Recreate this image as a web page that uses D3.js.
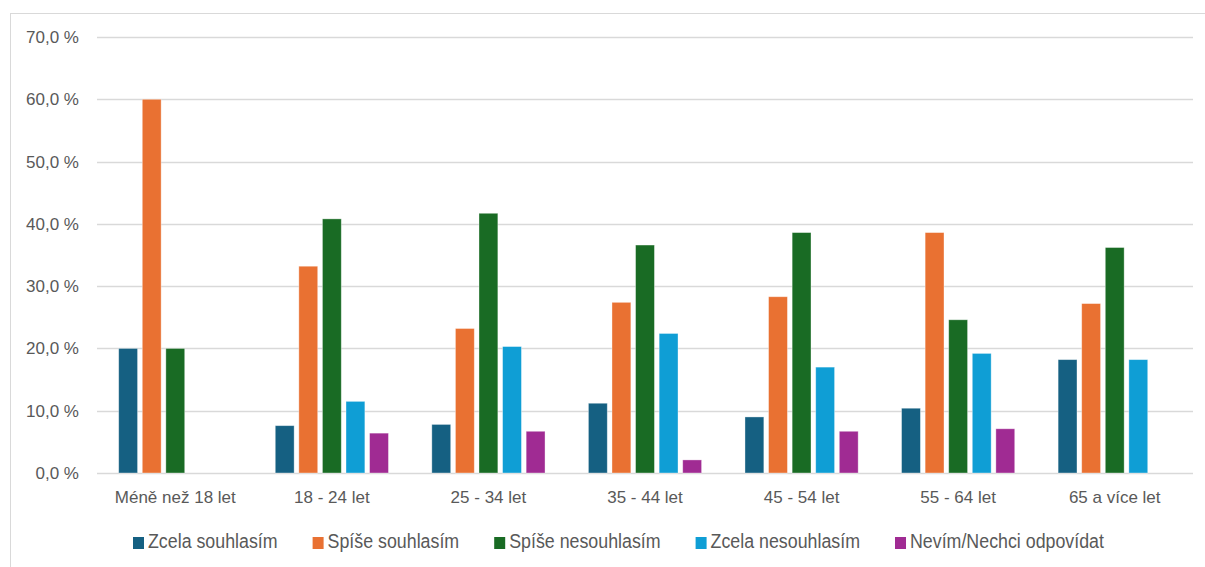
<!DOCTYPE html>
<html lang="cs">
<head>
<meta charset="utf-8">
<script src="https://cdn.jsdelivr.net/npm/d3@7"></script>
<style>
  html, body { margin: 0; padding: 0; background: #fff; }
  svg { display: block; }
  text { font-family: "Liberation Sans", Arial, sans-serif; fill: #595959; }
</style>
</head>
<body>
<svg id="chart" width="1205" height="567"></svg>
<script>
// Age groups along the x axis
const categories = ["Méně než 18 let", "18 - 24 let", "25 - 34 let", "35 - 44 let", "45 - 54 let", "55 - 64 let", "65 a více let"];

// Answer options (series)
const seriesNames = ["Zcela souhlasím", "Spíše souhlasím", "Spíše nesouhlasím", "Zcela nesouhlasím", "Nevím/Nechci odpovídat"];
const seriesColors = ["#156082", "#E97132", "#196B24", "#0F9ED5", "#A02B93"];

// Share of respondents (%) per age group; null = no answers
const zcelaSouhlasim    = [20.0, 7.6, 7.8, 11.2, 9.0, 10.4, 18.2];
const spiseSouhlasim    = [60.0, 33.2, 23.2, 27.4, 28.3, 38.6, 27.2];
const spiseNesouhlasim  = [20.0, 40.8, 41.7, 36.6, 38.6, 24.6, 36.2];
const zcelaNesouhlasim  = [null, 11.5, 20.3, 22.4, 17.0, 19.2, 18.2];
const nevim             = [null, 6.4, 6.7, 2.1, 6.7, 7.1, null];

// Y axis ticks
const yTicks = [0, 10, 20, 30, 40, 50, 60, 70];

const seriesValues = [zcelaSouhlasim, spiseSouhlasim, spiseNesouhlasim, zcelaNesouhlasim, nevim];

const svg = d3.select("#chart");

// Outer chart frame
svg.append("rect")
  .attr("x", 10.5).attr("y", 13.5)
  .attr("width", 1200).attr("height", 560)
  .attr("fill", "none").attr("stroke", "#d9d9d9").attr("stroke-width", 1);

const plot = { left: 97, right: 1193, top: 37, bottom: 473 };

const x0 = d3.scaleBand().domain(categories).range([plot.left, plot.right]).padding(0);
const x1 = d3.scaleBand().domain(seriesNames).range([0, x0.bandwidth()])
  .paddingInner(0.2).paddingOuter(0.92);
const y = d3.scaleLinear().domain([0, 70]).range([plot.bottom, plot.top]);

// Horizontal gridlines
svg.append("g")
  .selectAll("line")
  .data(yTicks)
  .join("line")
  .attr("x1", plot.left).attr("x2", plot.right)
  .attr("y1", d => Math.round(y(d)) + 0.5).attr("y2", d => Math.round(y(d)) + 0.5)
  .attr("stroke", "#d9d9d9").attr("stroke-width", 1.3);

// Y axis labels ("70,0 %")
const fmt = d => d.toFixed(1).replace(".", ",") + " %";
svg.append("g")
  .selectAll("text")
  .data(yTicks)
  .join("text")
  .attr("x", 79)
  .attr("y", d => y(d) + 6)
  .attr("text-anchor", "end")
  .style("font-size", "17px")
  .text(fmt);

// Bars
const rows = [];
categories.forEach((c, i) => {
  seriesNames.forEach((s, j) => {
    const v = seriesValues[j][i];
    if (v !== null) rows.push({ cat: c, series: s, color: seriesColors[j], value: v });
  });
});

svg.append("g")
  .selectAll("rect")
  .data(rows)
  .join("rect")
  .attr("x", d => x0(d.cat) + x1(d.series))
  .attr("width", x1.bandwidth())
  .attr("y", d => y(d.value))
  .attr("height", d => y(0) - y(d.value))
  .attr("fill", d => d.color)
  .attr("stroke", "#ffffff").attr("stroke-opacity", 0.45).attr("stroke-width", 0.8);

// Category labels
svg.append("g")
  .selectAll("text")
  .data(categories)
  .join("text")
  .attr("x", d => x0(d) + x0.bandwidth() / 2)
  .attr("y", 503)
  .attr("text-anchor", "middle")
  .style("font-size", "17px")
  .text(d => d);

// Legend, laid out left to right with condensed labels
const legend = svg.append("g");
let lx = 133;
seriesNames.forEach((s, j) => {
  const item = legend.append("g");
  item.append("rect")
    .attr("x", lx).attr("y", 537)
    .attr("width", 11).attr("height", 12)
    .attr("fill", seriesColors[j]);
  const t = item.append("text")
    .attr("x", lx + 15).attr("y", 548)
    .style("font-size", "20px")
    .text(s);
  const w = t.node().getComputedTextLength() * 0.89;
  t.attr("textLength", w).attr("lengthAdjust", "spacingAndGlyphs");
  lx += 15 + w + 35;
});
</script>
</body>
</html>
